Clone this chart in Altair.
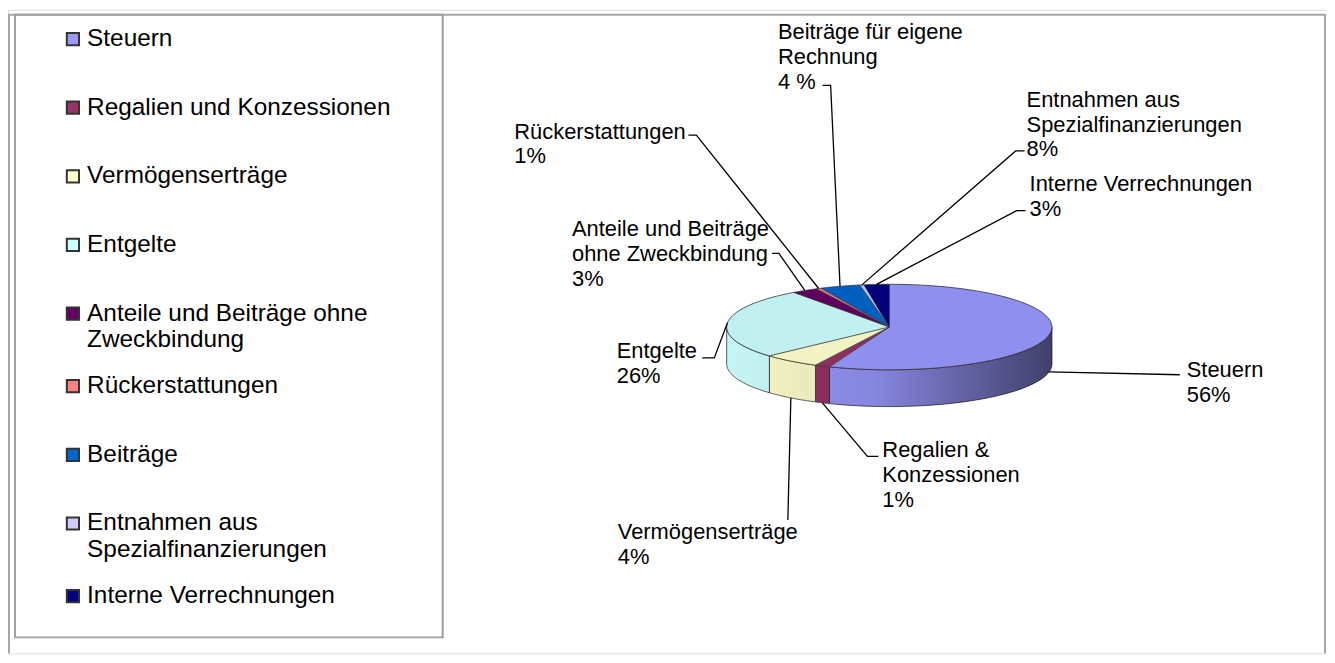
import altair as alt
import pandas as pd

# ---------------- data ----------------
categories = [
    "Steuern",
    "Regalien und Konzessionen",
    "Vermögenserträge",
    "Entgelte",
    "Anteile und Beiträge ohne\nZweckbindung",
    "Rückerstattungen",
    "Beiträge",
    "Entnahmen aus\nSpezialfinanzierungen",
    "Interne Verrechnungen",
]
# shares as drawn in the pie (percent)
shares = [56, 1.5, 5.7, 26.8, 2.6, 0.5, 4.0, 0.4, 2.5]
slice_labels = [
    "Steuern\n56%",
    "Regalien &\nKonzessionen\n1%",
    "Vermögenserträge\n4%",
    "Entgelte\n26%",
    "Anteile und Beiträge\nohne Zweckbindung\n3%",
    "Rückerstattungen\n1%",
    "Beiträge für eigene\nRechnung\n4 %",
    "Entnahmen aus\nSpezialfinanzierungen\n8%",
    "Interne Verrechnungen\n3%",
]

# ---------------- style / layout ----------------
colors = ["#9999FF", "#993366", "#FFFFCC", "#CCFFFF", "#660066",
          "#FF8080", "#0066CC", "#CCCCFF", "#000080"]
top_colors = ["#8F8FF0", "#8E2F5F", "#F2F2C4", "#C0F0F0", "#5E005E",
              "#F07878", "#0060C2", "#C2C2F2", "#000078"]
FONT = "Liberation Sans"
W, H = 1326, 647
OFF = 8  # page margin
CX, CY, A, B, D = 894 - OFF, 327 - OFF, 163.5, 43, 37
# label text anchor (left x, first-line centre y) and leader elbow / end points, page px
label_x = [1193, 887, 621, 620, 575, 517, 782, 1032, 1035]
label_cy = [370, 450, 533, 351, 228, 130, 30, 98, 183]
elbow = [(1186, 375), (872, 457), (792, 521), (718, 358), (783, 253),
         (700, 134), (835, 84), (1021, 150), (1022, 210)]
tick_end = [(1186, 375), (883, 457), (792, 521), (706, 358), (776, 253),
            (692, 134), (827, 84), (1030, 150), (1031, 210)]

df = pd.DataFrame({
    "idx": list(range(len(categories))),
    "cat": categories,
    "value": shares,
    "col": top_colors,
    "lbl": slice_labels,
    "tx": [v - OFF for v in label_x],
    "ty": [v - OFF - 9.5 for v in label_cy],
    "p1x": [p[0] - OFF for p in elbow],
    "p1y": [p[1] - OFF for p in elbow],
    "p2x": [p[0] - OFF for p in tick_end],
    "p2y": [p[1] - OFF for p in tick_end],
})

xs = alt.Scale(domain=[0, W], nice=False, zero=False)
ys = alt.Scale(domain=[0, H], nice=False, zero=False, reverse=True)
cs = alt.Scale(domain=categories, range=colors)

legend = alt.Legend(
    title=None, orient="none", legendX=53, legendY=-5, padding=0,
    symbolType="square", symbolSize=150, symbolStrokeColor="black", symbolStrokeWidth=2,
    symbolOpacity=1,
    labelFont=FONT, labelFontSize=24.5, labelColor="black", labelLimit=600, labelOffset=2,
    labelBaseline="middle", labelExpr="split(datum.label, '\\n')",
    clipHeight=69, rowPadding=0,
)

geo = (
    alt.Chart(df)
    .transform_joinaggregate(total="sum(value)")
    .transform_window(cum="sum(value)", sort=[alt.SortField("idx")], frame=[None, 0])
    .transform_calculate(
        t1="2*PI*datum.cum/datum.total",
        t0="2*PI*(datum.cum-datum.value)/datum.total",
    )
)

one = pd.DataFrame({"k": [0]})

frame_style = dict(color="#a6a6a6", strokeWidth=2)
frame_top = alt.Chart(one).mark_rule(**frame_style).encode(
    x=alt.value(0), x2=alt.value(1325), y=alt.value(5)
)
frame_left = alt.Chart(one).mark_rule(**frame_style).encode(
    x=alt.value(1), y=alt.value(5), y2=alt.value(H)
)
frame_right = alt.Chart(one).mark_rule(**frame_style).encode(
    x=alt.value(1324), y=alt.value(5), y2=alt.value(H)
)
legend_box = alt.Chart(one).mark_rect(fill="transparent", stroke="#a0a0a0", strokeWidth=2).encode(
    x=alt.value(7), x2=alt.value(437), y=alt.value(5), y2=alt.value(631)
)

# front walls of the 3D pie
sides = (
    geo.transform_calculate(a0="max(datum.t0, PI/2)", a1="min(datum.t1, 3*PI/2)")
    .transform_filter("datum.a1 > datum.a0")
    .transform_calculate(s="sequence(0, 41)")
    .transform_flatten(["s"])
    .transform_calculate(
        tt="datum.a0 + (datum.a1-datum.a0)*datum.s/40",
        px=f"{CX} + {A}*sin(datum.tt)",
        ytop=f"{CY} - {B}*cos(datum.tt)",
        ybot=f"{CY} - {B}*cos(datum.tt) + {D}",
    )
    .mark_area(orient="vertical", stroke="#333333", strokeWidth=0.8, opacity=1)
    .encode(
        x=alt.X("px:Q", scale=xs, axis=None),
        y=alt.Y("ytop:Q", scale=ys, axis=None, stack=None),
        y2="ybot:Q",
        fill=alt.Fill("cat:N", scale=cs, legend=legend),
    )
)

shade = (
    alt.Chart(one)
    .transform_calculate(s="sequence(0, 61)")
    .transform_flatten(["s"])
    .transform_calculate(
        tt="PI/2 + PI*datum.s/60",
        px=f"{CX} + {A}*sin(datum.tt)",
        ytop=f"{CY} - {B}*cos(datum.tt)",
        ybot=f"{CY} - {B}*cos(datum.tt) + {D}",
    )
    .mark_area(
        orient="vertical",
        fill=alt.Gradient(
            gradient="linear", x1=0, x2=1, y1=0, y2=0,
            stops=[
                alt.GradientStop(color="rgba(0,0,0,0.03)", offset=0),
                alt.GradientStop(color="rgba(0,0,0,0.12)", offset=0.45),
                alt.GradientStop(color="rgba(0,0,0,0.58)", offset=1),
            ],
        ),
    )
    .encode(
        x=alt.X("px:Q", scale=xs, axis=None),
        y=alt.Y("ytop:Q", scale=ys, axis=None, stack=None),
        y2="ybot:Q",
    )
)

# top faces
tops = (
    geo.transform_calculate(s="sequence(0, 62)")
    .transform_flatten(["s"])
    .transform_calculate(
        tt="datum.t0 + (datum.t1-datum.t0)*(datum.s-1)/60",
        px=f"datum.s == 0 ? {CX} : {CX} + {A}*sin(datum.tt)",
        py=f"datum.s == 0 ? {CY} : {CY} - {B}*cos(datum.tt)",
    )
    .mark_line(stroke="#333333", strokeWidth=0.8, strokeJoin="round")
    .encode(
        x=alt.X("px:Q", scale=xs, axis=None),
        y=alt.Y("py:Q", scale=ys, axis=None),
        fill=alt.Fill("col:N", scale=None),
        detail="cat:N",
        order=alt.Order("s:Q"),
    )
)

leaders = (
    geo.transform_calculate(tm="(datum.t0 + datum.t1)/2")
    .transform_calculate(
        p0x=f"{CX} + {A}*sin(datum.tm)",
        p0y=f"{CY} - {B}*cos(datum.tm) + (cos(datum.tm) < 0 ? {D} : 0)",
    )
    .transform_calculate(
        pts="[{k: 0, x: datum.p0x, y: datum.p0y}, {k: 1, x: datum.p1x, y: datum.p1y}, {k: 2, x: datum.p2x, y: datum.p2y}]"
    )
    .transform_flatten(["pts"])
    .transform_calculate(lx="datum.pts.x", ly="datum.pts.y", lk="datum.pts.k")
    .mark_line(color="black", strokeWidth=1.3)
    .encode(
        x=alt.X("lx:Q", scale=xs, axis=None),
        y=alt.Y("ly:Q", scale=ys, axis=None),
        detail="cat:N",
        order=alt.Order("lk:Q"),
    )
)

labels = (
    alt.Chart(df)
    .mark_text(align="left", baseline="top", lineBreak="\n", font=FONT,
               fontSize=22, lineHeight=25, color="black")
    .encode(
        x=alt.X("tx:Q", scale=xs, axis=None),
        y=alt.Y("ty:Q", scale=ys, axis=None),
        text="lbl:N",
    )
)

chart = (
    alt.layer(frame_top, frame_left, frame_right, legend_box, sides, shade, tops, leaders, labels)
    .properties(width=W, height=H, padding=0, autosize=alt.AutoSizeParams(type="none"))
    .configure_view(strokeWidth=0, stroke="transparent")
    .configure(background="white")
)

chart.save("out.html", embed_options={"renderer": "svg", "actions": False})
